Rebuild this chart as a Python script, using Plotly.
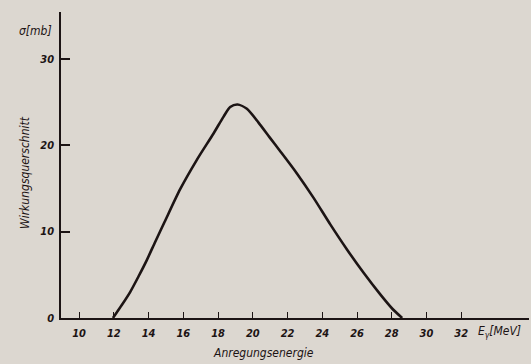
import plotly.graph_objects as go

# Anregungsfunktion
energie = [11.95, 12.46, 12.94, 13.42, 13.9, 14.38, 14.92, 15.82, 16.78, 17.74, 18.32, 18.7,
           19.12, 19.66, 20.33, 20.97, 21.58, 22.55, 23.5, 24.47, 25.43, 26.39, 27.35,
           28.02, 28.6]
sigma = [0.0, 1.5, 3.0, 4.8, 6.7, 8.8, 11.1, 14.9, 18.3, 21.35, 23.3, 24.4,
         24.7, 24.2, 22.6, 20.9, 19.3, 16.7, 13.9, 10.8, 7.9, 5.2, 2.7,
         1.1, 0.0]

x_ticks = [10, 12, 14, 16, 18, 20, 22, 24, 26, 28, 30, 32]
y_ticks = [0, 10, 20, 30]

bg = "#dcd7d0"
ink = "#1c1414"
tfont = dict(family="DejaVu Sans Condensed, DejaVu Sans", size=11, color=ink,
             style="italic", weight="bold")
lfont = dict(tfont, size=12, weight="normal")

fig = go.Figure()
fig.add_trace(go.Scatter(
    x=energie, y=sigma, mode="lines",
    line=dict(color=ink, width=2.6, shape="spline", smoothing=0.7),
    hoverinfo="skip", showlegend=False,
))

fig.update_layout(
    width=531, height=364,
    margin=dict(l=61, r=2, t=12, b=46),
    paper_bgcolor=bg, plot_bgcolor=bg,
    xaxis=dict(range=[8.96, 35.9], tickvals=x_ticks, showgrid=False, zeroline=False,
               showline=True, linecolor=ink, linewidth=2,
               ticks="inside", ticklen=6, tickwidth=1.2, tickcolor=ink,
               tickfont=tfont, ticklabelstandoff=4),
    yaxis=dict(range=[0, 35.4], tickvals=y_ticks, showgrid=False, zeroline=False,
               showline=True, linecolor=ink, linewidth=1.5,
               ticks="inside", ticklen=9, tickwidth=1.5, tickcolor=ink,
               tickfont=tfont, ticklabelstandoff=3),
)


# pixel -> paper coordinates for the free texts
def px(xp):
    return (xp - 61) / 468


def py(yp):
    return (318 - yp) / 306


fig.add_annotation(x=px(35), y=py(31), xref="paper", yref="paper", text="σ[mb]",
                   showarrow=False, font=lfont, xanchor="center", yanchor="middle")
fig.add_annotation(x=px(25), y=py(173), xref="paper", yref="paper", text="Wirkungsquerschnitt",
                   showarrow=False, textangle=-90, font=lfont,
                   xanchor="center", yanchor="middle")
fig.add_annotation(x=px(263), y=py(353), xref="paper", yref="paper", text="Anregungsenergie",
                   showarrow=False, font=lfont, xanchor="center", yanchor="middle")
fig.add_annotation(x=px(499), y=py(332), xref="paper", yref="paper", text="E<sub>γ</sub>[MeV]",
                   showarrow=False, font=lfont, xanchor="center", yanchor="middle")

# drop the default body margin so the figure sits at the window's corner
fig.write_html("out.html", config={"displayModeBar": False},
               post_script="document.body.style.margin='0';document.body.style.background='%s';" % bg)
